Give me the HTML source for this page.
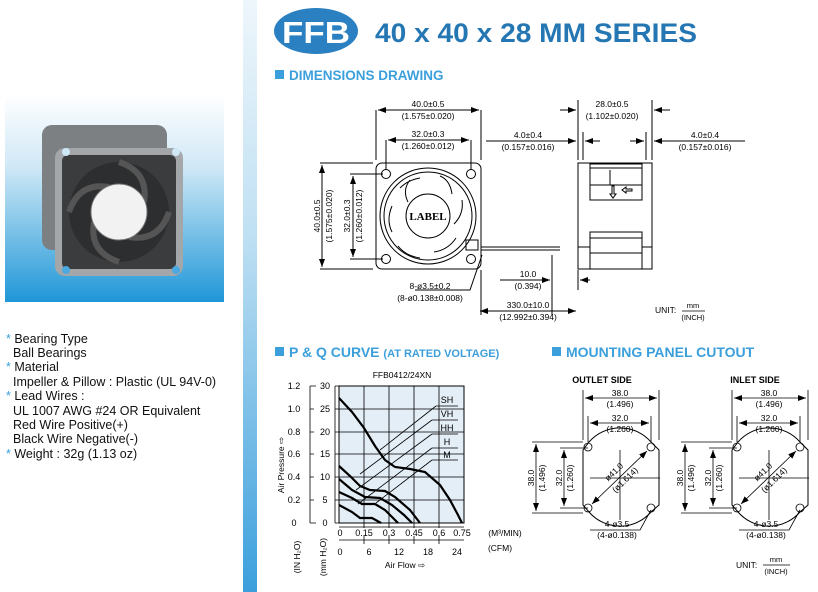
<!DOCTYPE html>
<html><head><meta charset="utf-8"><style>
html,body{margin:0;padding:0;background:#fff;}
svg{display:block;font-family:"Liberation Sans",Arial,sans-serif;}
</style></head><body>
<svg width="818" height="592" viewBox="0 0 818 592" xmlns="http://www.w3.org/2000/svg">
<defs>
<linearGradient id="strip" x1="0" y1="0" x2="0" y2="1"><stop offset="0" stop-color="#eef6fb"/><stop offset="0.4" stop-color="#bfe0f3"/><stop offset="1" stop-color="#3b9fdc"/></linearGradient>
<linearGradient id="photo" x1="0" y1="0" x2="0" y2="1"><stop offset="0" stop-color="#ffffff"/><stop offset="0.35" stop-color="#cfe8f6"/><stop offset="1" stop-color="#1f97d8"/></linearGradient>
<marker id="ar" markerWidth="8" markerHeight="6" refX="8" refY="3" orient="auto-start-reverse" markerUnits="userSpaceOnUse"><path d="M0,0 L8,3 L0,6z" fill="#000"/></marker>
</defs>
<rect x="243" y="0" width="14" height="592" fill="url(#strip)"/>
<rect x="5" y="95" width="219" height="207" fill="url(#photo)"/>
<!-- fan photo -->
<g>
<rect x="42" y="125" width="125" height="125" rx="10" fill="#7d8083"/>
<rect x="55" y="148" width="128" height="128" rx="10" fill="#a4a7aa"/>
<rect x="62" y="155" width="114" height="114" rx="6" fill="#3a3c3e"/>
<circle cx="119" cy="212" r="50" fill="#2c2e30"/>
<path d="M119,162 q30,10 25,40 M169,212 q-10,30 -40,25 M119,262 q-30,-10 -25,-40 M69,212 q10,-30 40,-25" stroke="#555" stroke-width="6" fill="none"/>
<circle cx="119" cy="212" r="28" fill="#f2f2f2" stroke="#777"/>
<circle cx="66" cy="152" r="4" fill="#cfe8f6"/><circle cx="176" cy="152" r="4" fill="#cfe8f6"/>
<circle cx="66" cy="270" r="4" fill="#4aa9e0"/><circle cx="176" cy="270" r="4" fill="#4aa9e0"/>
</g>
<g font-size="12.5" fill="#111">
<text x="6" y="343"><tspan fill="#3b9fdc">*</tspan> Bearing Type</text>
<text x="13" y="357">Ball Bearings</text>
<text x="6" y="371"><tspan fill="#3b9fdc">*</tspan> Material</text>
<text x="13" y="386">Impeller &amp; Pillow : Plastic (UL 94V-0)</text>
<text x="6" y="400"><tspan fill="#3b9fdc">*</tspan> Lead Wires :</text>
<text x="13" y="415">UL 1007 AWG #24 OR Equivalent</text>
<text x="13" y="429">Red Wire Positive(+)</text>
<text x="13" y="443">Black Wire Negative(-)</text>
<text x="6" y="458"><tspan fill="#3b9fdc">*</tspan> Weight : 32g (1.13 oz)</text>
</g>
<!-- header -->
<ellipse cx="316" cy="31" rx="42" ry="23" fill="#2a80c0"/>
<text x="316" y="43" font-size="31" font-weight="bold" fill="#fff" text-anchor="middle" textLength="68" lengthAdjust="spacingAndGlyphs">FFB</text>
<text x="375" y="42" font-size="27" font-weight="bold" fill="#2577b3" textLength="322" lengthAdjust="spacingAndGlyphs">40 x 40 x 28 MM SERIES</text>
<rect x="275" y="70" width="9" height="9" fill="#3b9fdc"/>
<text x="289" y="80" font-size="13.5" font-weight="bold" fill="#3b9fdc">DIMENSIONS DRAWING</text>
<!-- front view -->
<g stroke="#000" fill="none" stroke-width="1">
<rect x="376" y="163" width="105" height="106" rx="6"/>
<circle cx="386" cy="174" r="4.5"/><circle cx="471" cy="174" r="4.5"/><circle cx="386" cy="259" r="4.5"/><circle cx="471" cy="259" r="4.5"/>
<circle cx="428" cy="216" r="48"/><circle cx="428" cy="216" r="44"/>
<circle cx="428" cy="216" r="22"/>
<path d="M410,180 q-8,10 -2,22 M440,176 q10,4 12,18 M462,200 q2,14 -8,24 M456,238 q-8,12 -22,14 M420,258 q-14,-2 -22,-12 M392,232 q-6,-12 0,-26 M400,188 q8,-8 20,-10"/>
<rect x="466" y="240" width="12" height="10"/>
<path d="M376,110 V160 M481,110 V160 M386,140 V170 M471,140 V170 M320,163 H373 M320,269 H373 M350,174 H383 M350,259 H383"/>
<path d="M481,247 H560 M481,250 H560 M578,100 V160 M652,100 V160 M583,132 V160 M646,132 V160 M552,255 V315 M578,270 V290"/>
<path d="M482,255 L470,290 H415"/>
</g>
<g stroke="#000" stroke-width="1" fill="none">
<line x1="378" y1="110" x2="479" y2="110" marker-start="url(#ar)" marker-end="url(#ar)"/>
<line x1="388" y1="140" x2="469" y2="140" marker-start="url(#ar)" marker-end="url(#ar)"/>
<line x1="322" y1="165" x2="322" y2="267" marker-start="url(#ar)" marker-end="url(#ar)"/>
<line x1="353" y1="176" x2="353" y2="257" marker-start="url(#ar)" marker-end="url(#ar)"/>
<line x1="486" y1="141" x2="576" y2="141" marker-end="url(#ar)"/>
<line x1="600" y1="141" x2="585" y2="141" marker-end="url(#ar)"/>
<line x1="630" y1="141" x2="644" y2="141" marker-end="url(#ar)"/>
<line x1="745" y1="141" x2="654" y2="141" marker-end="url(#ar)"/>
<line x1="560" y1="110" x2="576" y2="110" marker-end="url(#ar)"/>
<line x1="670" y1="110" x2="654" y2="110" marker-end="url(#ar)"/>
<line x1="500" y1="280" x2="550" y2="280" marker-end="url(#ar)"/>
<line x1="590" y1="280" x2="580" y2="280" marker-end="url(#ar)"/>
<line x1="500" y1="311" x2="480" y2="311" marker-end="url(#ar)"/>
<line x1="480" y1="311" x2="576" y2="311" marker-end="url(#ar)"/>
</g>
<path d="M481,270 V315" stroke="#000"/>
<g font-size="8.5" text-anchor="middle" fill="#000">
<text x="428" y="107">40.0±0.5</text><text x="428" y="119">(1.575±0.020)</text>
<text x="428" y="137">32.0±0.3</text><text x="428" y="149">(1.260±0.012)</text>
<text x="528" y="138">4.0±0.4</text><text x="528" y="150">(0.157±0.016)</text>
<text x="612" y="107">28.0±0.5</text><text x="612" y="119">(1.102±0.020)</text>
<text x="705" y="138">4.0±0.4</text><text x="705" y="150">(0.157±0.016)</text>
<text x="528" y="277">10.0</text><text x="528" y="289">(0.394)</text>
<text x="528" y="308">330.0±10.0</text><text x="528" y="320">(12.992±0.394)</text>
<text x="430" y="289">8-ø3.5±0.2</text><text x="430" y="301">(8-ø0.138±0.008)</text>
<text transform="translate(320,216) rotate(-90)">40.0±0.5</text>
<text transform="translate(332,216) rotate(-90)">(1.575±0.020)</text>
<text transform="translate(350,216) rotate(-90)">32.0±0.3</text>
<text transform="translate(362,216) rotate(-90)">(1.260±0.012)</text>
</g>
<text x="428" y="220" font-size="11" font-family="Liberation Serif,serif" font-weight="bold" text-anchor="middle">LABEL</text>
<!-- side view -->
<g stroke="#000" fill="none">
<rect x="578" y="163" width="74" height="106"/>
<rect x="590" y="164" width="52" height="36"/><path d="M590,168 L642,168 M610,170 V185 M590,185 H642"/>
<rect x="590" y="232" width="52" height="37"/><path d="M590,238 H642 M590,253 H642 M578,247 H590 M642,247 H652"/>
<path d="M612,186 v8 h-2 l3,4 l3,-4 h-2 v-8z M632,189 h-6 v-2 l-4,3 l4,3 v-2 h6z"/>
</g>
<text x="655" y="313" font-size="8.5">UNIT:</text>
<text x="693" y="308" font-size="7.5" text-anchor="middle">mm</text>
<line x1="682" y1="311" x2="705" y2="311" stroke="#000" stroke-width="0.8"/>
<text x="693" y="320" font-size="7.5" text-anchor="middle">(INCH)</text>
<!-- P&Q -->
<rect x="275" y="347" width="9" height="9" fill="#3b9fdc"/>
<text x="289" y="357" font-size="14" font-weight="bold" fill="#3b9fdc">P &amp; Q CURVE <tspan font-size="11">(AT RATED VOLTAGE)</tspan></text>
<text x="402" y="378" font-size="8.5" text-anchor="middle">FFB0412/24XN</text>
<rect x="339" y="386" width="125" height="137" fill="#e3eef6" stroke="#000"/>
<g stroke="#000" stroke-width="0.8">
<path d="M364,386V523 M389,386V523 M414,386V523 M439,386V523 M339,409H464 M339,432H464 M339,454H464 M339,477H464 M339,500H464"/>
<path d="M310,386V523 M310,386H316 M310,409H314 M310,432H314 M310,454H314 M310,477H314 M310,500H314 M310,523H316"/>
<path d="M335,386V523 M335,386H339 M335,409H339 M335,432H339 M335,454H339 M335,477H339 M335,500H339 M335,523H339"/>
<path d="M339,527H464 M339,540H464 M364,536V544 M389,536V544 M414,536V544 M439,536V544 M364,523V528 M389,523V528 M414,523V528 M439,523V528"/>
</g>
<g fill="none" stroke="#000" stroke-width="2.2">
<polyline points="339,398 352,412 364,428 375,446 385,460 395,467 410,469 425,472 440,485 450,500 458,515 462,523"/>
<polyline points="339,466 350,476 360,486 370,490 385,491 395,497 410,510 420,523"/>
<polyline points="339,479 352,490 365,497 380,498 392,505 404,515 412,523"/>
<polyline points="339,492 352,498 362,504 375,504 385,510 398,523"/>
<polyline points="339,505 352,512 360,518 372,518 381,523"/>
</g>
<g fill="none" stroke="#000" stroke-width="0.8">
<path d="M436,406 H458 M436,406 L380,450 M432,420 H458 M432,420 L360,474 M432,434 H458 M432,434 L356,490 M432,448 H458 M432,448 L358,504 M432,460 H458 M432,460 L376,503"/>
</g>
<g font-size="9" text-anchor="middle">
<text x="447" y="403">SH</text><text x="447" y="417">VH</text><text x="447" y="431">HH</text><text x="447" y="445">H</text><text x="447" y="458">M</text>
<text x="294" y="389">1.2</text><text x="294" y="412">1.0</text><text x="294" y="435">0.8</text><text x="294" y="457">0.6</text><text x="294" y="480">0.4</text><text x="294" y="503">0.2</text><text x="294" y="526">0</text>
<text x="325" y="389">30</text><text x="325" y="412">25</text><text x="325" y="435">20</text><text x="325" y="457">15</text><text x="325" y="480">10</text><text x="325" y="503">5</text><text x="325" y="526">0</text>
<text x="340" y="536">0</text><text x="364" y="536">0.15</text><text x="389" y="536">0.3</text><text x="414" y="536">0.45</text><text x="439" y="536">0.6</text><text x="462" y="536">0.75</text>
<text x="340" y="555">0</text><text x="369" y="555">6</text><text x="399" y="555">12</text><text x="428" y="555">18</text><text x="457" y="555">24</text>
<text x="505" y="536" font-size="8.5">(M³/MIN)</text><text x="500" y="551" font-size="8.5">(CFM)</text>
<text x="405" y="568" font-size="8.5">Air Flow ⇨</text>
<text transform="translate(284,465) rotate(-90)" font-size="8.5">Air Pressure  ⇨</text>
<text transform="translate(300,557) rotate(-90)" font-size="8.5">(IN H₂O)</text>
<text transform="translate(326,557) rotate(-90)" font-size="8.5">(mm H₂O)</text>
</g>
<!-- Mounting -->
<rect x="552" y="347" width="9" height="9" fill="#3b9fdc"/>
<text x="566" y="357" font-size="14" font-weight="bold" fill="#3b9fdc">MOUNTING PANEL CUTOUT</text>
<text x="602" y="383" font-size="9" font-weight="bold" text-anchor="middle">OUTLET SIDE</text>
<text x="755" y="383" font-size="9" font-weight="bold" text-anchor="middle">INLET SIDE</text>
<g id="co">
<g fill="none" stroke="#000" stroke-width="0.8">
<path d="M589,442 A41,41 0 0 1 651,442 L659,450 V505 L651,512 A41,41 0 0 1 589,512 L583,505 V450 Z" stroke-width="1"/>
<circle cx="588" cy="447" r="4"/><circle cx="651" cy="447" r="4"/><circle cx="588" cy="508" r="4"/><circle cx="651" cy="508" r="4"/>
<path d="M583,390 V440 M659,390 V440 M588,416 V442 M651,416 V442 M620,450 V520 M590,478 H660 M532,442 H583 M532,513 H583 M560,448 H588 M560,508 H588"/>
<path d="M651,510 L640,530 H590"/>
</g>
<g stroke="#000" stroke-width="0.8" fill="none">
<line x1="585" y1="398" x2="657" y2="398" marker-start="url(#ar)" marker-end="url(#ar)"/>
<line x1="590" y1="423" x2="649" y2="423" marker-start="url(#ar)" marker-end="url(#ar)"/>
<line x1="536" y1="444" x2="536" y2="511" marker-start="url(#ar)" marker-end="url(#ar)"/>
<line x1="564" y1="450" x2="564" y2="506" marker-start="url(#ar)" marker-end="url(#ar)"/>
<line x1="592" y1="504" x2="647" y2="451" marker-start="url(#ar)" marker-end="url(#ar)"/>
</g>
<g font-size="8.5" text-anchor="middle">
<text x="620" y="396">38.0</text><text x="620" y="407">(1.496)</text>
<text x="620" y="421">32.0</text><text x="620" y="432">(1.260)</text>
<text x="617" y="527">4-ø3.5</text><text x="617" y="538">(4-ø0.138)</text>
<text transform="translate(534,478) rotate(-90)">38.0</text>
<text transform="translate(545,478) rotate(-90)">(1.496)</text>
<text transform="translate(562,478) rotate(-90)">32.0</text>
<text transform="translate(573,478) rotate(-90)">(1.260)</text>
<text transform="translate(616,474) rotate(-44)">ø41.0</text>
<text transform="translate(627,482) rotate(-44)">(ø1.614)</text>
</g>
</g>
<use href="#co" x="149"/>
<text x="736" y="568" font-size="8.5">UNIT:</text>
<text x="776" y="562" font-size="7.5" text-anchor="middle">mm</text>
<line x1="763" y1="565" x2="790" y2="565" stroke="#000" stroke-width="0.8"/>
<text x="776" y="574" font-size="7.5" text-anchor="middle">(INCH)</text>
</svg>
</body></html>
